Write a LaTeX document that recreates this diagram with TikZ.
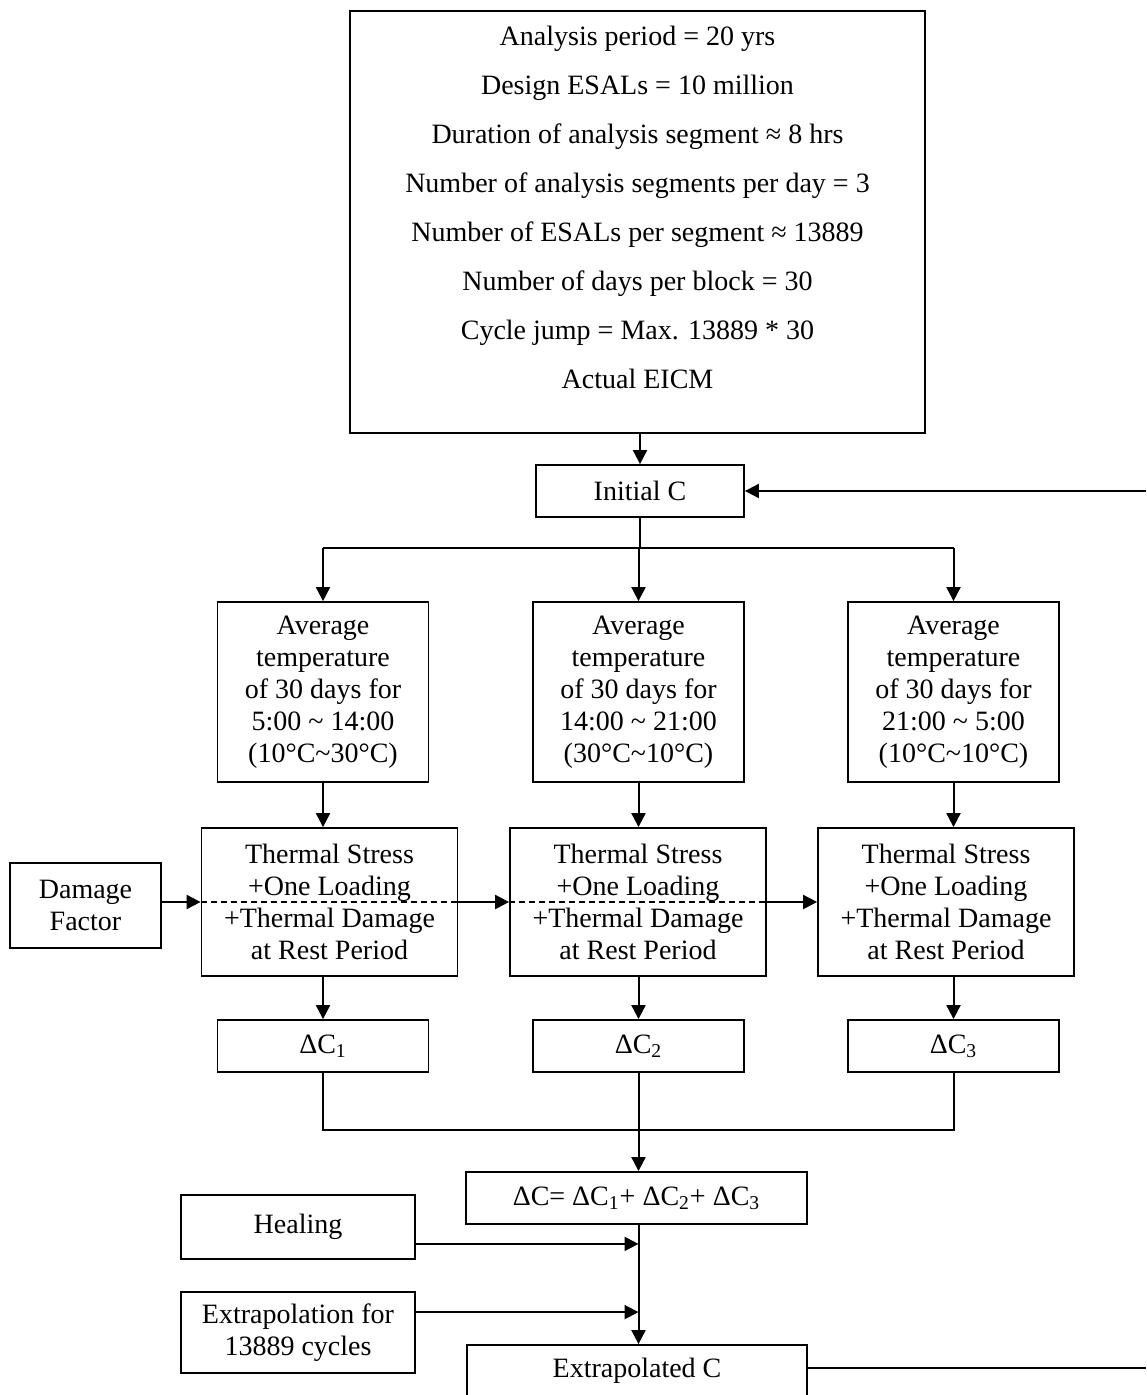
\documentclass[tikz,border=0pt]{standalone}
\usepackage{fontspec}
\setmainfont{Liberation Serif}
\usetikzlibrary{calc,arrows.meta}

\begin{document}
\begin{tikzpicture}[x=0.5pt,y=-0.5pt,
    box/.style={rectangle,draw=black,line width=0.9pt,inner sep=0pt,align=center,
      font=\fontsize{14}{16}\selectfont},
    line/.style={line width=1pt},
    arr/.style={line width=1pt,-{Triangle[length=7pt,width=7pt]}}]
  \useasboundingbox (0,0) rectangle (1146,1395);
  \clip (0,0) rectangle (1146,1395);

  % input data
  \node (setup) [box,minimum width=287.5pt,minimum height=211pt] at (637.5,222){};
  \node (setuptext) [align=center,font=\fontsize{14}{24.5}\selectfont] at (637.5,207){
    Analysis period = 20 yrs\\
    Design ESALs = 10 million\\
    Duration of analysis segment ≈ 8 hrs\\
    Number of analysis segments per day = 3\\
    Number of ESALs per segment ≈ 13889\\
    Number of days per block = 30\\
    Cycle jump = Max. 13889 * 30\\
    Actual EICM};
  \node (init) [box,minimum width=104pt,minimum height=26pt] at (640,491){Initial C};
  \coordinate (rightin) at (1146,491);
  \draw [arr] (init.north |- setup.south) to (init.north);
  \draw [arr] (rightin) to (init.east);
  \coordinate (branch) at (640,548);
  \draw [line] (init.south) to (branch);

  % three analysis segments
  \foreach \i/\x/\tx/\t/\r in {1/323/329.5/5:00 \textasciitilde{} 14:00/10°C\textasciitilde30°C,
      2/638.5/638/14:00 \textasciitilde{} 21:00/30°C\textasciitilde10°C,
      3/953.5/946/21:00 \textasciitilde{} 5:00/10°C\textasciitilde10°C}{
    \node (avg\i) [box,minimum width=105.5pt,minimum height=90pt] at (\x,692)
      {Average\\temperature\\of 30 days for\\\t\\(\r)};
    \node (therm\i) [box,minimum width=128pt,minimum height=74pt] at (\tx,902)
      {Thermal Stress\\+One Loading\\+Thermal Damage\\at Rest Period};
    \node (dC\i) [box,minimum width=105.5pt,minimum height=26pt] at (\x,1046)
      {ΔC\textsubscript{\i}};
    \draw [arr] (branch -| avg\i.north) to (avg\i.north);
    \draw [arr] (avg\i.south) to (avg\i.south |- therm\i.north);
    \draw [arr] (dC\i.north |- therm\i.south) to (dC\i.north);
  }
  \draw [line] (branch -| avg1.north) to (branch -| avg3.north);

  % damage factor
  \node (damage) [box,minimum width=75.5pt,minimum height=42.5pt] at (85.5,905.5)
    {Damage\\Factor};
  \draw [arr] (therm1.west -| damage.east) to (therm1.west);
  \draw [arr] (therm1.east) to (therm2.west);
  \draw [arr] (therm2.east) to (therm3.west);
  \foreach \i in {1,2}{
    \draw [line width=0.6pt,dash pattern=on 3pt off 2pt] (therm\i.west) to (therm\i.east);
  }

  % summation
  \node (sum) [box,minimum width=170.5pt,minimum height=26pt] at (636.5,1198)
    {ΔC= ΔC\textsubscript{1}+ ΔC\textsubscript{2}+ ΔC\textsubscript{3}};
  \coordinate (collect) at (638.5,1130);
  \draw [line] (dC1.south) to (dC1.south |- collect) to (dC3.south |- collect) to (dC3.south);
  \draw [arr] (dC2.south) to (dC2.south |- sum.north);

  \node (heal) [box,minimum width=117pt,minimum height=32pt] at (298,1227){Healing};
  \node (extrap) [box,minimum width=117pt,minimum height=40.5pt] at (298,1332.5)
    {Extrapolation for\\13889 cycles};
  \node (extra) [box,minimum width=170pt,minimum height=26pt] at (637,1371){Extrapolated C};
  \draw [arr] (dC2.south |- sum.south) to (dC2.south |- extra.north);
  \coordinate (healout) at ($(heal.south east)+(0,-16)$);
  \coordinate (extrapout) at ($(extrap.north east)+(0,21)$);
  \draw [arr] (healout) to (healout -| dC2.south);
  \draw [arr] (extrapout) to (extrapout -| dC2.south);
  \coordinate (rightout) at (1146,1368);
  \draw [line] (extra.east |- rightout) to (rightout);
\end{tikzpicture}
\end{document}
